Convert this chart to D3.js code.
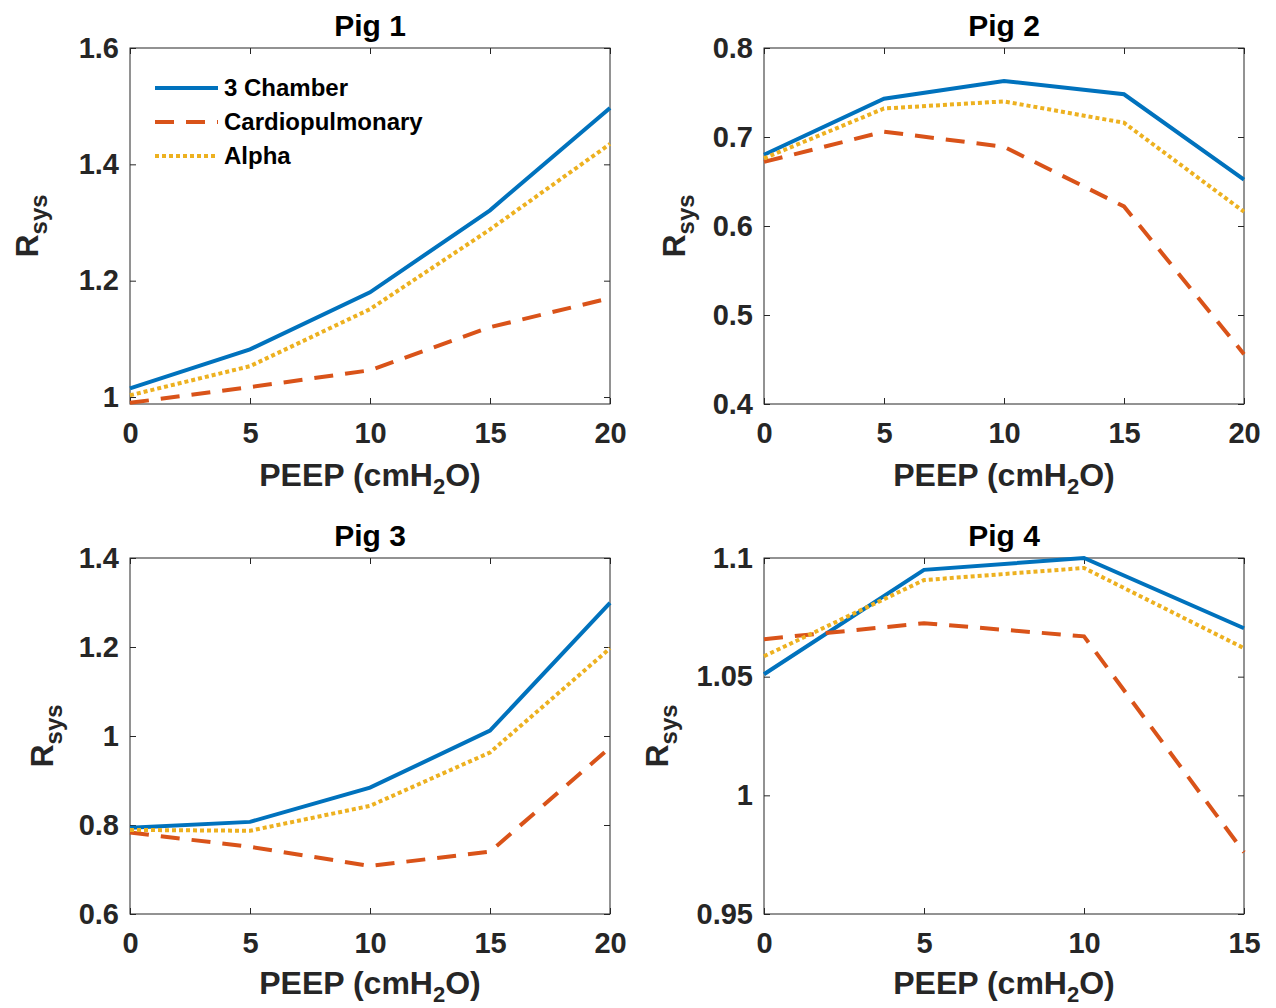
<!DOCTYPE html>
<html>
<head>
<meta charset="utf-8">
<script src="https://cdn.jsdelivr.net/npm/d3@7"></script>
<style>
  body { margin: 0; background: #fff; }
  text { font-family: "Liberation Sans", Arial, sans-serif; font-weight: bold; }
</style>
</head>
<body>
<div id="graph-container"></div>
<script>
const width = 1276, height = 1008;

// x values (PEEP, cmH2O)
const peep = [0, 5, 10, 15, 20];
const peep4 = [0, 5, 10, 15];
const seriesNames = ["3 Chamber", "Cardiopulmonary", "Alpha"];

// Pig 1
const pig1Chamber = [1.015, 1.082, 1.180, 1.321, 1.497];
const pig1Cardio  = [0.990, 1.017, 1.046, 1.120, 1.170];
const pig1Alpha   = [1.003, 1.053, 1.151, 1.288, 1.435];
const pig1Ticks = [1, 1.2, 1.4, 1.6];

// Pig 2
const pig2Chamber = [0.680, 0.743, 0.763, 0.748, 0.652];
const pig2Cardio  = [0.672, 0.706, 0.689, 0.622, 0.456];
const pig2Alpha   = [0.676, 0.732, 0.740, 0.716, 0.616];
const pig2Ticks = [0.4, 0.5, 0.6, 0.7, 0.8];

// Pig 3
const pig3Chamber = [0.794, 0.807, 0.884, 1.012, 1.299];
const pig3Cardio  = [0.783, 0.751, 0.708, 0.740, 0.974];
const pig3Alpha   = [0.789, 0.787, 0.843, 0.963, 1.197];
const pig3Ticks = [0.6, 0.8, 1, 1.2, 1.4];

// Pig 4
const pig4Chamber = [1.051, 1.095, 1.100, 1.0704];
const pig4Cardio  = [1.0658, 1.0725, 1.067, 0.976];
const pig4Alpha   = [1.0586, 1.0907, 1.0958, 1.062];
const pig4Ticks = [0.95, 1, 1.05, 1.1];

const colors = ["#0072BD", "#D95319", "#EDB120"];
const dashes = [null, "19,12", "4,3"];

const panels = [
  { title: "Pig 1", x: peep, xTicks: peep, ys: [pig1Chamber, pig1Cardio, pig1Alpha],
    yTicks: pig1Ticks, yDomain: [0.988, 1.6], left: 130, top: 48, ylabX: 27, xlabY: 82, legend: true },
  { title: "Pig 2", x: peep, xTicks: peep, ys: [pig2Chamber, pig2Cardio, pig2Alpha],
    yTicks: pig2Ticks, yDomain: [0.4, 0.8], left: 764, top: 48, ylabX: 674, xlabY: 82 },
  { title: "Pig 3", x: peep, xTicks: peep, ys: [pig3Chamber, pig3Cardio, pig3Alpha],
    yTicks: pig3Ticks, yDomain: [0.6, 1.4], left: 130, top: 558, ylabX: 42, xlabY: 80 },
  { title: "Pig 4", x: peep4, xTicks: peep4, ys: [pig4Chamber, pig4Cardio, pig4Alpha],
    yTicks: pig4Ticks, yDomain: [0.95, 1.1], left: 764, top: 558, ylabX: 657, xlabY: 80 }
];

const pw = 480, ph = 356;
const axisColor = "#262626";

const svg = d3.select("#graph-container").append("svg")
  .attr("width", width)
  .attr("height", height)
  .attr("viewBox", [0, 0, width, height]);

panels.forEach(p => {
  const g = svg.append("g").attr("transform", `translate(${p.left},${p.top})`);

  const x = d3.scaleLinear().domain(d3.extent(p.x)).range([0, pw]);
  const y = d3.scaleLinear().domain(p.yDomain).range([ph, 0]);
  const fmt = d3.format("~g");

  // box
  g.append("rect")
    .attr("width", pw).attr("height", ph)
    .attr("fill", "none").attr("stroke", axisColor).attr("stroke-width", 1);

  const styleAxis = sel => {
    sel.select(".domain").remove();
    sel.selectAll(".tick line").attr("stroke", axisColor);
    sel.selectAll(".tick text")
      .attr("fill", axisColor)
      .attr("font-size", 29)
      .attr("font-family", "Liberation Sans, Arial, sans-serif")
      .attr("font-weight", "bold");
  };

  g.append("g").attr("transform", `translate(0,${ph})`)
    .call(d3.axisBottom(x).tickValues(p.xTicks).tickFormat(fmt).tickSize(-6).tickPadding(18))
    .call(styleAxis);
  g.append("g")
    .call(d3.axisTop(x).tickValues(p.xTicks).tickFormat("").tickSize(-6))
    .call(styleAxis);
  g.append("g")
    .call(d3.axisLeft(y).tickValues(p.yTicks).tickFormat(fmt).tickSize(-6).tickPadding(11))
    .call(styleAxis);
  g.append("g").attr("transform", `translate(${pw},0)`)
    .call(d3.axisRight(y).tickValues(p.yTicks).tickFormat("").tickSize(-6))
    .call(styleAxis);

  // lines
  const line = d3.line().x(d => x(d[0])).y(d => y(d[1]));
  p.ys.forEach((vals, i) => {
    g.append("path")
      .datum(p.x.map((xv, j) => [xv, vals[j]]))
      .attr("fill", "none")
      .attr("stroke", colors[i])
      .attr("stroke-width", 4)
      .attr("stroke-dasharray", dashes[i])
      .attr("d", line);
  });

  // title
  g.append("text")
    .attr("x", pw / 2).attr("y", -12)
    .attr("text-anchor", "middle")
    .attr("font-size", 30)
    .attr("fill", "#000")
    .text(p.title);

  // x label
  const xl = g.append("text")
    .attr("x", pw / 2).attr("y", ph + p.xlabY)
    .attr("text-anchor", "middle")
    .attr("font-size", 32)
    .attr("fill", axisColor);
  xl.append("tspan").text("PEEP (cmH");
  xl.append("tspan").attr("font-size", 22).attr("dy", 8).text("2");
  xl.append("tspan").attr("dy", -8).text("O)");

  // y label
  const yl = svg.append("text")
    .attr("transform", `translate(${p.ylabX},${p.top + ph / 2}) rotate(-90)`)
    .attr("text-anchor", "middle")
    .attr("dy", "0.35em")
    .attr("font-size", 32)
    .attr("fill", axisColor);
  yl.append("tspan").text("R");
  yl.append("tspan").attr("font-size", 24).attr("dy", 9).text("sys");

  // legend
  if (p.legend) {
    const lg = g.append("g").attr("transform", "translate(25,40)");
    seriesNames.forEach((name, i) => {
      const row = lg.append("g").attr("transform", `translate(0,${i * 34})`);
      row.append("line")
        .attr("x1", 0).attr("x2", 63)
        .attr("stroke", colors[i]).attr("stroke-width", 4)
        .attr("stroke-dasharray", dashes[i]);
      row.append("text")
        .attr("x", 69).attr("dy", "0.35em")
        .attr("font-size", 24)
        .attr("fill", "#000")
        .text(name);
    });
  }
});
</script>
</body>
</html>
